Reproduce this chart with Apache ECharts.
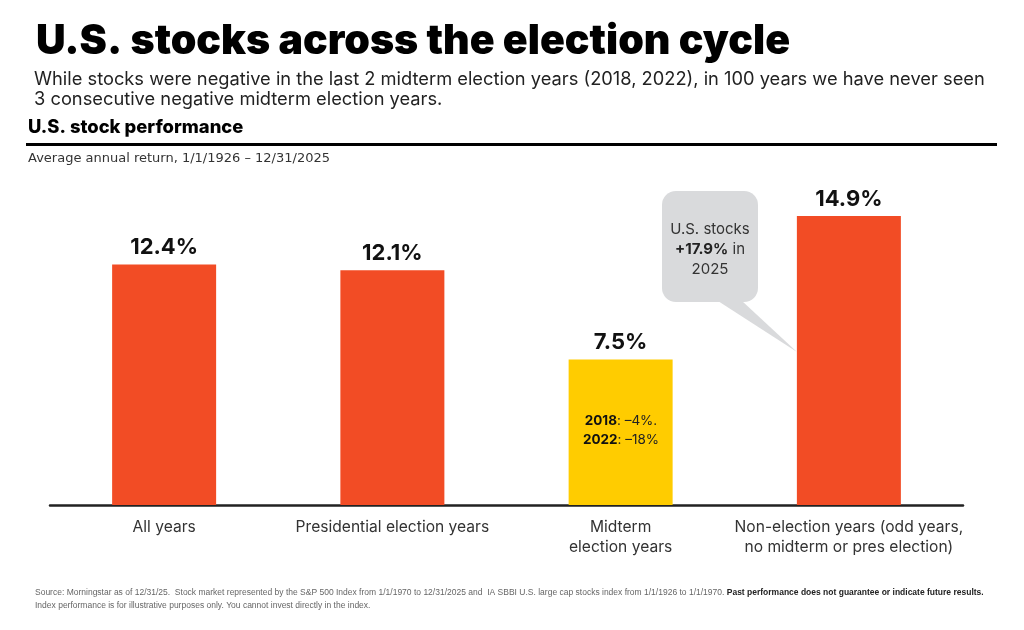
<!DOCTYPE html>
<html><head><meta charset="utf-8">
<style>html,body{margin:0;padding:0;background:#fff}#c{width:1024px;height:630px}</style>
<script src="https://cdn.jsdelivr.net/npm/echarts@6/dist/echarts.min.js"></script>
</head><body><div id="c"></div>
<script>
const categories = ['All years', 'Presidential election years', 'Midterm\nelection years', 'Non-election years (odd years,\nno midterm or pres election)'];
const values = [12.4, 12.1, 7.5, 14.9];
const barColors = ['#F24C25', '#F24C25', '#FFCC00', '#F24C25'];
const F = 'Inter, "Noto Sans", sans-serif';
const chart = echarts.init(document.getElementById('c'), null, {renderer: 'canvas'});
const txt = (x, y, text, style) => ({type: 'text', x, y, z: 10, silent: true, style: Object.assign({text, fontFamily: F, fill: '#1a1a1a'}, style)});
chart.setOption({
  backgroundColor: '#fff',
  animation: false,
  grid: {left: 50, right: 61, top: 214, bottom: 125},
  xAxis: {
    type: 'category', data: categories,
    axisTick: {show: false},
    axisLine: {lineStyle: {color: '#222', width: 2.5}},
    axisLabel: {color: '#333', fontFamily: F, fontSize: 15.6, lineHeight: 20, margin: 12, interval: 0}
  },
  yAxis: {type: 'value', min: 0, max: 15, show: false, splitLine: {show: false}},
  series: [{
    type: 'bar', barWidth: 104,
    data: values.map((v, i) => ({value: v, itemStyle: {color: barColors[i]}})),
    label: {show: true, position: 'top', distance: 6, color: '#111', fontFamily: F, fontWeight: 700, fontSize: 22, formatter: p => p.value.toFixed(1) + '%'}
  }],
  graphic: [
    txt(36, 21, 'U.S. stocks across the election cycle', {fontSize: 41.1, fontWeight: 900, fill: '#000'}),
    txt(34, 71, 'While stocks were negative in the last 2 midterm election years (2018, 2022), in 100 years we have never seen', {fontSize: 18.3, fill: '#222'}),
    txt(34, 91, '3 consecutive negative midterm election years.', {fontSize: 18.3, fill: '#222'}),
    txt(28, 118, 'U.S. stock performance', {fontSize: 18.4, fontWeight: 800, fill: '#000'}),
    {type: 'rect', silent: true, z: 10, shape: {x: 26, y: 143, width: 971, height: 3}, style: {fill: '#000'}},
    txt(28, 152, 'Average annual return, 1/1/1926 – 12/31/2025', {fontFamily: '"DejaVu Sans", sans-serif', fontSize: 13, fill: '#333'}),
    {type: 'polygon', silent: true, z: 10, shape: {points: [[718, 301], [742, 301], [797, 352]]}, style: {fill: '#D9DADC'}},
    {type: 'rect', silent: true, z: 10, shape: {x: 662, y: 191, width: 96, height: 111, r: 14}, style: {fill: '#D9DADC'}},
    {type: 'text', silent: true, z: 11, x: 710, y: 219, style: {
      align: 'center', fontFamily: F, fontSize: 15, lineHeight: 20, fill: '#333',
      text: 'U.S. stocks\n{b|+17.9%} in\n2025',
      rich: {b: {fontWeight: 700, fontFamily: F, fontSize: 15, fill: '#222'}}
    }},
    {type: 'text', silent: true, z: 11, x: 621, y: 411, style: {
      align: 'center', fontFamily: F, fontSize: 13.5, lineHeight: 19, fill: '#222',
      text: '{b|2018}: –4%.\n{b|2022}: –18%',
      rich: {b: {fontWeight: 700, fontFamily: F, fontSize: 13.5, fill: '#111'}}
    }},
    {type: 'text', silent: true, z: 11, x: 35, y: 588, style: {
      fontFamily: '"Liberation Sans", sans-serif', fontSize: 8.5, fill: '#666',
      text: 'Source: Morningstar as of 12/31/25.  Stock market represented by the S&P 500 Index from 1/1/1970 to 12/31/2025 and  IA SBBI U.S. large cap stocks index from 1/1/1926 to 1/1/1970. {b|Past performance does not guarantee or indicate future results.}',
      rich: {b: {fontWeight: 700, fontFamily: '"Liberation Sans", sans-serif', fontSize: 8.5, fill: '#222'}}
    }},
    txt(35, 601, 'Index performance is for illustrative purposes only. You cannot invest directly in the index.', {fontFamily: '"Liberation Sans", sans-serif', fontSize: 8.5, fill: '#666'})
  ]
});
</script></body></html>
